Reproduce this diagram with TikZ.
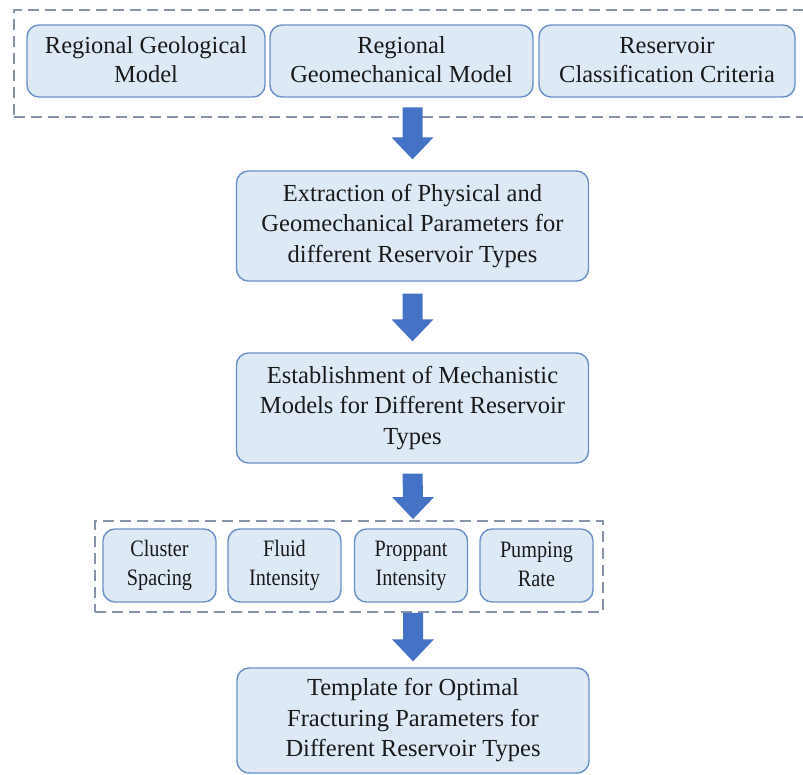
\documentclass[tikz,border=0pt]{standalone}
\usepackage{fontspec}
\setmainfont{Liberation Serif}
\newfontfamily\narrowserif[FakeStretch=0.86]{Liberation Serif}
\usetikzlibrary{calc}
\definecolor{boxfill}{HTML}{DDEAF6}
\definecolor{boxline}{HTML}{6A90C8}
\definecolor{arrowblue}{HTML}{4472C4}
\definecolor{framegray}{HTML}{8794A8}
\definecolor{txt}{HTML}{1A1A1A}
\newcommand\mytopstrut{\rule{0pt}{27pt}}
\newcommand\mybotstrut{\rule[-2pt]{0pt}{2pt}}
\newcommand\blkarrow[2]{%
  \fill[arrowblue] ($(#1)+(-10,0)$) -- ($(#1)+(10,0)$) -- ($(#2)+(10,-22)$) -- ($(#2)+(21,-22)$) -- (#2) -- ($(#2)+(-21,-22)$) -- ($(#2)+(-10,-22)$) -- cycle;}
\begin{document}
\begin{tikzpicture}[x=1pt,y=-1pt,
  box/.style={draw=boxline, fill=boxfill, line width=1.4pt, rounded corners=12pt,
    align=center, inner sep=0pt, text=txt,
    execute at begin node={\mytopstrut}, execute at end node={\mybotstrut}},
  topbox/.style={box, minimum height=72pt, font=\fontsize{24.5}{29}\selectfont},
  bigbox/.style={box, minimum width=352pt, font=\fontsize{24.5}{30.5}\selectfont},
  smallbox/.style={box, minimum width=113pt, minimum height=73pt, font=\narrowserif\fontsize{23.5}{29}\selectfont},
  frame/.style={draw=framegray, line width=1.9pt, dash pattern=on 11pt off 6pt, inner sep=0pt}]
\useasboundingbox (0,0) rectangle (803,775);
\fill[white] (0,0) rectangle (803,775);
% top group
\node[frame, minimum width=792pt, minimum height=107pt] (grp1) at (410,63.5) {};
\node[topbox, minimum width=238pt] (geo) at (146,61) {Regional Geological\\Model};
\node[topbox, minimum width=263pt] (geomech) at (401.5,61) {Regional\\Geomechanical Model};
\node[topbox, minimum width=256pt] (crit) at (667,61) {Reservoir\\Classification Criteria};
% main boxes
\node[bigbox, minimum height=110pt] (ext) at (412.5,226) {Extraction of Physical and\\Geomechanical Parameters for\\different Reservoir Types};
\node[bigbox, minimum height=110pt] (est) at (412.5,408) {Establishment of Mechanistic\\Models for Different Reservoir\\Types};
% parameter group
\node[frame, minimum width=508pt, minimum height=91pt] (grp2) at (349,566.5) {};
\node[smallbox] (cluster) at (159.5,565.5) {Cluster\\Spacing};
\node[smallbox] (fluid) at (284.5,565.5) {Fluid\\Intensity};
\node[smallbox] (prop) at (411,565.5) {Proppant\\Intensity};
\node[smallbox] (pump) at (536.5,565.5) {Pumping\\Rate};
% template
\node[bigbox, minimum height=105pt] (tpl) at (413,720.5) {Template for Optimal\\Fracturing Parameters for\\Different Reservoir Types};
% arrows
\coordinate (a1s) at ($(ext.north)+(0,-63)$);
\coordinate (a1t) at ($(ext.north)+(0,-11)$);
\coordinate (a2s) at ($(ext.south)+(0,12)$);
\coordinate (a2t) at ($(est.north)+(0,-11)$);
\coordinate (a3s) at ($(est.south)+(0,10)$);
\coordinate (a3t) at ($(grp2.north)+(64,-1)$);
\coordinate (a4s) at ($(grp2.south)+(64,0)$);
\coordinate (a4t) at ($(tpl.north)+(0,-6)$);
\blkarrow{a1s}{a1t}
\blkarrow{a2s}{a2t}
\blkarrow{a3s}{a3t}
\blkarrow{a4s}{a4t}
\end{tikzpicture}
\end{document}
